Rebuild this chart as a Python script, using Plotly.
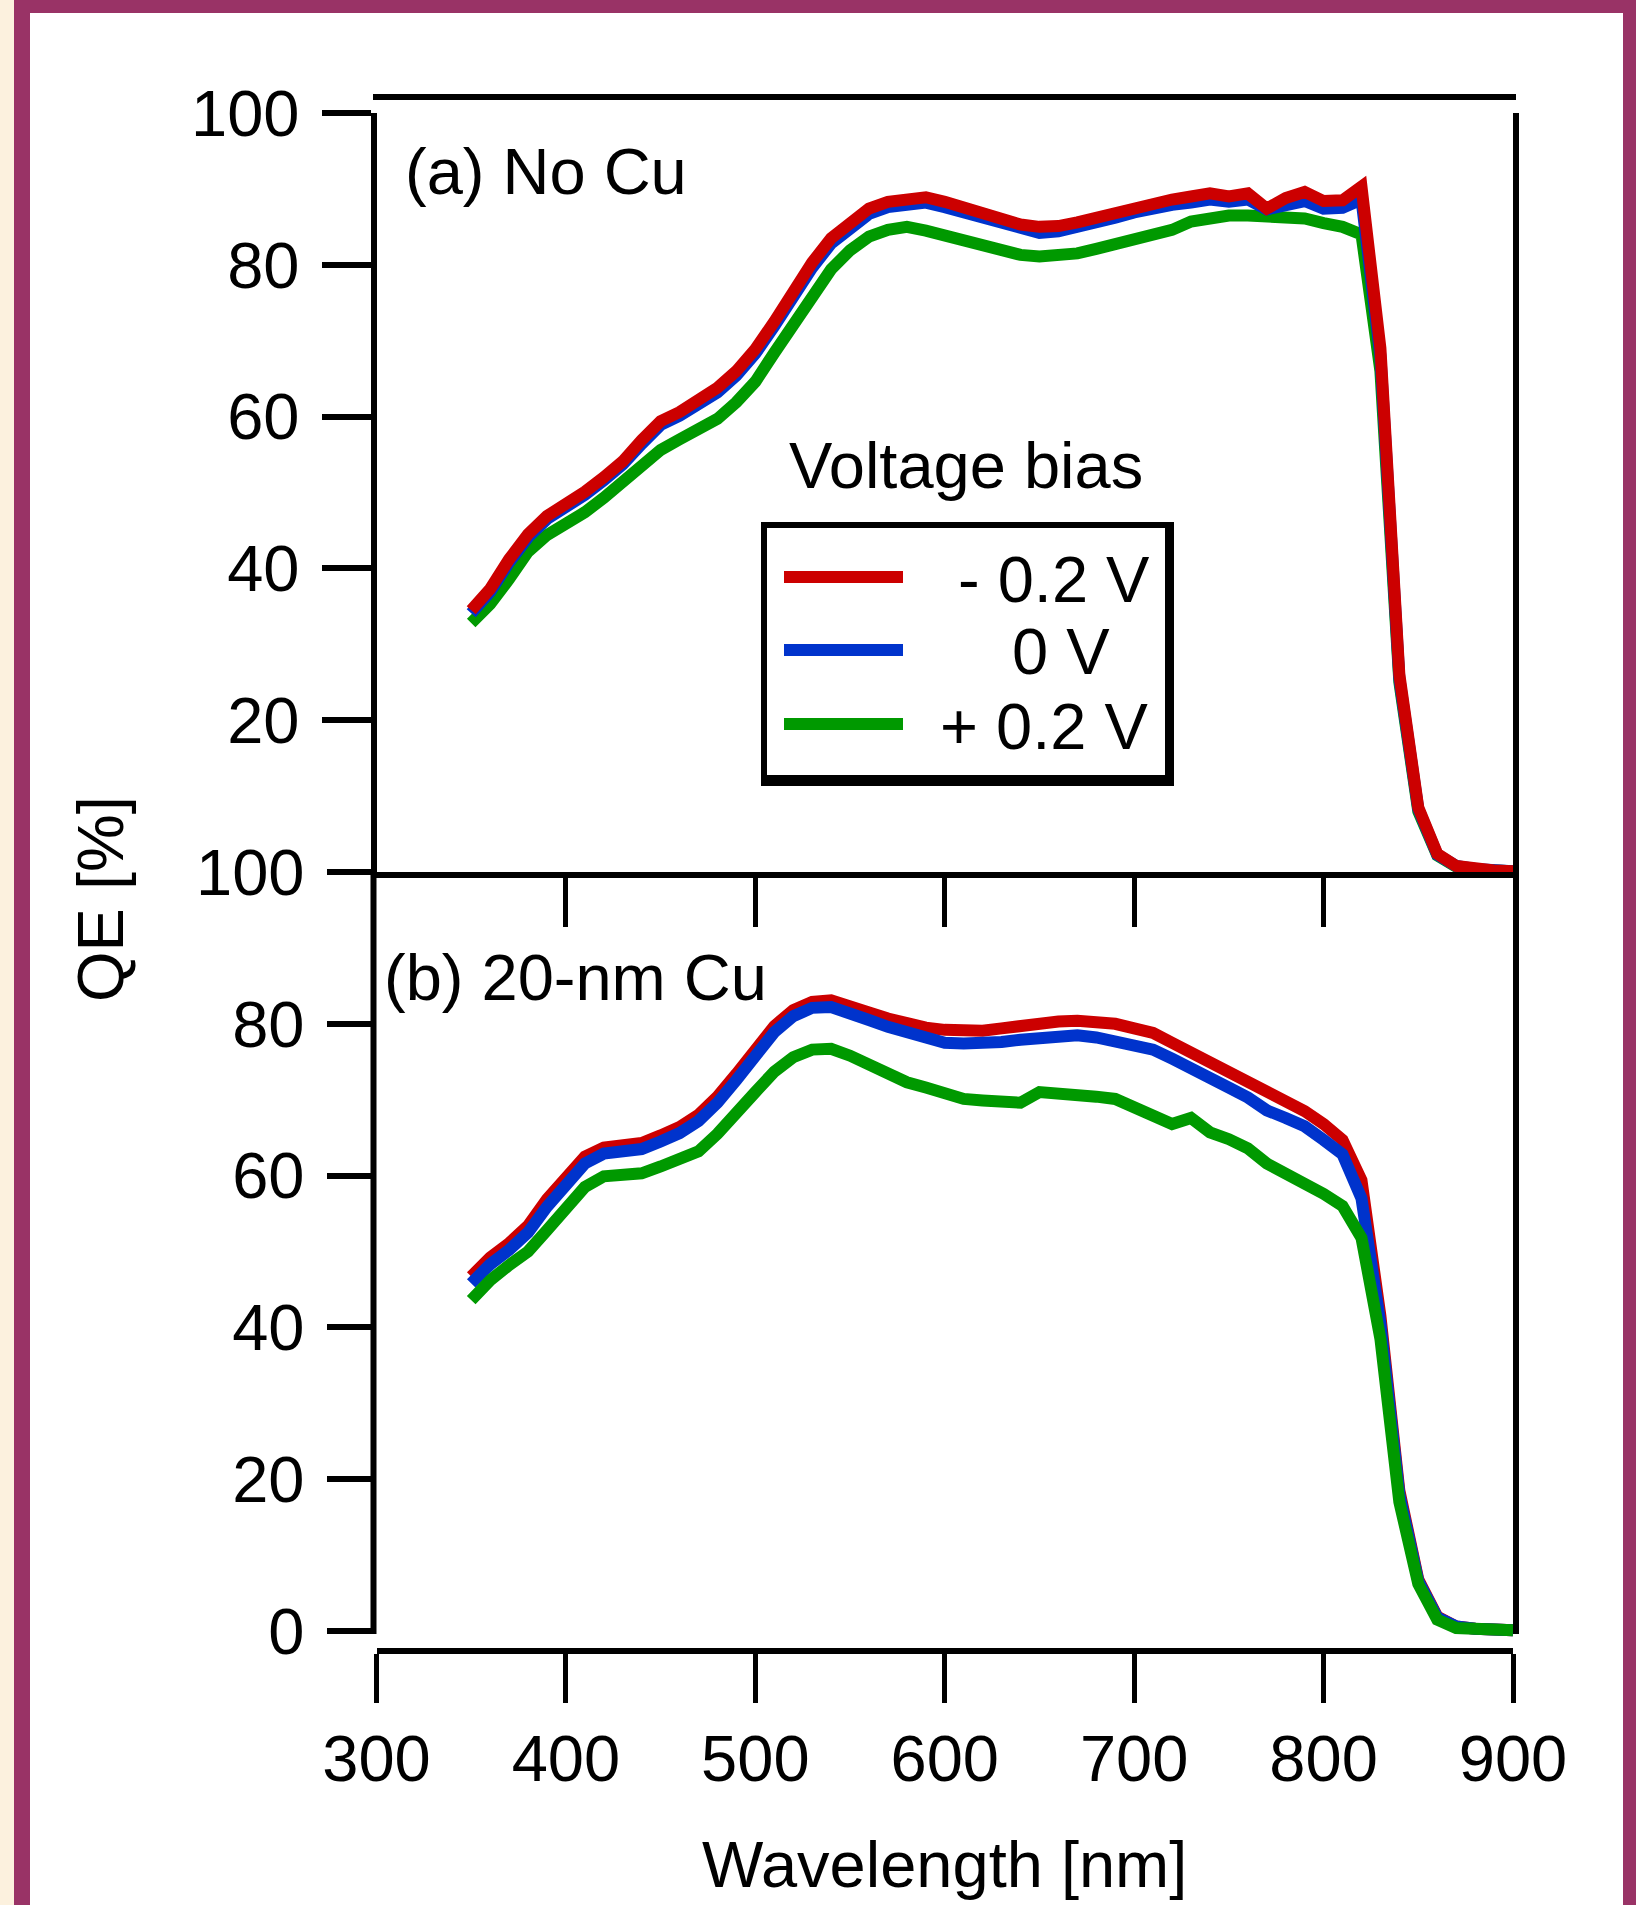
import plotly.graph_objects as go

W, H = 1636, 1905

wavelength = list(range(350, 901, 10))

# Panel (a) No Cu
qe_a_neg = [34.5, 37.3, 41.2, 44.5, 46.9, 48.4, 50.1, 52.0, 54.1, 56.9,
            59.4, 60.6, 62.0, 63.8, 66.0, 68.9, 72.5, 76.5, 80.3, 83.5,
            85.7, 87.4, 88.3, 88.7, 88.9, 88.3, 87.5, 86.7, 85.9, 85.3,
            85.0, 85.1, 85.6, 86.2, 86.9, 87.6, 88.3, 88.6, 89.0, 89.4,
            89.0, 89.4, 87.4, 88.8, 89.6, 88.4, 88.5, 90.3, 69.0, 26.0,
            8.5, 2.4, 0.8, 0.4, 0.2, 0.1]
qe_a_zero = [34.1, 36.9, 40.8, 44.1, 46.5, 48.0, 49.7, 51.6, 53.7, 56.4,
             58.9, 60.1, 61.5, 63.2, 65.4, 68.3, 71.9, 75.9, 79.6, 82.8,
             85.0, 86.7, 87.6, 88.0, 88.2, 87.6, 86.9, 86.0, 85.2, 84.6,
             84.2, 84.4, 84.9, 85.5, 86.2, 86.9, 87.6, 87.9, 88.2, 88.6,
             88.3, 88.6, 87.3, 88.0, 88.4, 87.4, 87.5, 88.6, 68.0, 25.5,
             8.3, 2.3, 0.8, 0.4, 0.2, 0.1]
qe_a_pos = [32.8, 35.3, 38.6, 42.2, 44.4, 45.8, 47.4, 49.3, 51.5, 53.7,
            55.6, 57.0, 58.2, 59.7, 61.9, 64.6, 68.4, 72.3, 75.9, 79.4,
            81.9, 83.7, 84.6, 85.0, 84.5, 83.9, 83.1, 82.4, 81.7, 81.3,
            81.1, 81.2, 81.5, 82.1, 82.7, 83.4, 84.1, 84.6, 85.7, 86.3,
            86.5, 86.5, 86.4, 86.4, 86.1, 85.5, 85.0, 84.0, 66.0, 25.0,
            8.0, 2.2, 0.7, 0.3, 0.2, 0.1]

# Panel (b) 20-nm Cu
qe_b_neg = [46.7, 49.2, 51.1, 53.4, 56.9, 60.0, 62.5, 63.7, 64.0, 64.3,
            65.3, 66.4, 68.0, 70.4, 73.4, 76.6, 79.7, 81.8, 82.9, 83.1,
            82.5, 81.5, 80.7, 80.0, 79.5, 79.2, 79.1, 79.1, 79.4, 79.8,
            80.1, 80.3, 80.4, 80.2, 80.0, 79.4, 78.8, 77.5, 76.2, 75.2,
            73.8, 72.4, 71.0, 69.8, 68.5, 66.8, 64.7, 59.4, 41.5, 18.5,
            6.8, 1.9, 0.6, 0.3, 0.2, 0.1]
qe_b_zero = [45.8, 48.3, 50.2, 52.5, 55.9, 59.0, 61.6, 62.9, 63.2, 63.5,
             64.5, 65.6, 67.2, 69.6, 72.6, 75.8, 78.9, 81.0, 82.1, 82.2,
             81.5, 80.5, 79.6, 78.8, 78.0, 77.5, 77.4, 77.4, 77.6, 77.9,
             78.2, 78.4, 78.5, 78.2, 77.8, 77.3, 76.6, 75.4, 74.0, 73.0,
             71.6, 70.3, 68.6, 67.6, 66.5, 64.7, 62.8, 57.0, 40.5, 18.0,
             6.6, 1.8, 0.6, 0.3, 0.2, 0.1]
qe_b_pos = [43.6, 46.2, 48.2, 50.0, 52.8, 55.8, 58.5, 59.9, 60.2, 60.3,
            61.2, 62.1, 63.2, 65.5, 68.0, 71.0, 73.7, 75.6, 76.6, 76.7,
            75.8, 74.6, 73.2, 72.3, 71.6, 70.9, 70.1, 69.9, 69.8, 69.6,
            71.0, 70.9, 70.8, 70.4, 70.1, 68.9, 68.0, 66.8, 67.6, 65.7,
            64.8, 63.6, 61.6, 60.4, 59.2, 57.6, 56.0, 51.8, 38.5, 17.0,
            6.2, 1.5, 0.4, 0.2, 0.1, 0.1]

series_names = ["- 0.2 V", "0 V", "+ 0.2 V"]
colors = ["#CC0000", "#0033CC", "#009900"]

x_ticks = [300, 400, 500, 600, 700, 800, 900]
mid_ticks = [400, 500, 600, 700, 800]
y_ticks_a = [20, 40, 60, 80, 100]
y_ticks_b = [0, 20, 40, 60, 80, 100]

FONT = "Liberation Sans, Arial, sans-serif"
FS = 65
LW = 12


def px(x):
    return x / W


def py(y):
    return 1 - y / H


X0, X1 = 376.5, 1513.0
YA_TOP, YA_BOT = 113.0, 872.0
YB_TOP, YB_ZERO, YB_BOT = 872.0, 1631.0, 1648.0
unit = (YB_ZERO - YB_TOP) / 100.0
yb_min = -(YB_BOT - YB_ZERO) / unit

fig = go.Figure()

# panel (a): green, blue, red on top
for ys, c in ((qe_a_pos, colors[2]), (qe_a_zero, colors[1]), (qe_a_neg, colors[0])):
    fig.add_trace(go.Scatter(x=wavelength, y=ys, mode="lines", xaxis="x2", yaxis="y",
                             line=dict(color=c, width=LW), showlegend=False))
# panel (b): red, blue, green on top
for ys, c in ((qe_b_neg, colors[0]), (qe_b_zero, colors[1]), (qe_b_pos, colors[2])):
    fig.add_trace(go.Scatter(x=wavelength, y=ys, mode="lines", xaxis="x", yaxis="y2",
                             line=dict(color=c, width=LW), showlegend=False))

axis_common = dict(showgrid=False, zeroline=False, linecolor="black", tickcolor="black",
                   automargin=False,
                   tickfont=dict(family=FONT, size=FS, color="black"))

fig.update_layout(
    width=W, height=H, margin=dict(l=0, r=0, t=0, b=0, pad=0, autoexpand=False),
    paper_bgcolor="white", plot_bgcolor="rgba(0,0,0,0)",
    xaxis=dict(domain=[px(X0), px(X1)], range=[300, 900], anchor="y2",
               tickvals=x_ticks, ticks="outside", ticklen=49, tickwidth=5,
               showline=True, linewidth=6, ticklabelstandoff=0, **axis_common),
    xaxis2=dict(domain=[px(X0), px(X1)], range=[300, 900], anchor="y", matches="x",
                tickvals=mid_ticks, ticks="outside", ticklen=49, tickwidth=5,
                showline=True, linewidth=6, showticklabels=False, automargin=False,
                showgrid=False, zeroline=False, linecolor="black", tickcolor="black"),
    yaxis=dict(domain=[py(YA_BOT), py(YA_TOP)], range=[0, 100], anchor="x2",
               tickvals=y_ticks_a, ticks="outside", ticklen=49, tickwidth=6,
               showline=True, linewidth=6, mirror=True, ticklabelstandoff=9, **axis_common),
    yaxis2=dict(domain=[py(YB_BOT), py(YB_TOP)], range=[yb_min, 100], anchor="x",
                tickvals=y_ticks_b, ticks="outside", ticklen=49, tickwidth=6,
                showline=False, ticklabelstandoff=9, **axis_common),
)

shapes = []
# page border
shapes.append(dict(type="rect", xref="paper", yref="paper", x0=0, x1=px(14), y0=0, y1=1,
                   fillcolor="#FCF1DE", line=dict(width=0), layer="above"))
shapes.append(dict(type="rect", xref="paper", yref="paper", x0=px(14), x1=px(30), y0=0, y1=1,
                   fillcolor="#993366", line=dict(width=0), layer="above"))
shapes.append(dict(type="rect", xref="paper", yref="paper", x0=px(14), x1=1, y0=py(13), y1=1,
                   fillcolor="#993366", line=dict(width=0), layer="above"))
shapes.append(dict(type="rect", xref="paper", yref="paper", x0=px(1623), x1=1, y0=0, y1=1,
                   fillcolor="#993366", line=dict(width=0), layer="above"))
# top frame line
shapes.append(dict(type="line", xref="paper", yref="paper", x0=px(373), x1=px(1516),
                   y0=py(97), y1=py(97), line=dict(color="black", width=6)))
# panel (b) left and right frame lines (stop at the 0 level)
for xv in (X0 - 3, X1 + 3):
    shapes.append(dict(type="line", xref="paper", yref="paper", x0=px(xv), x1=px(xv),
                       y0=py(YB_ZERO + 3), y1=py(YB_TOP), line=dict(color="black", width=6)))
# legend box
shapes.append(dict(type="rect", xref="paper", yref="paper", x0=px(761), x1=px(1174),
                   y0=py(786), y1=py(522), fillcolor="black", line=dict(width=0)))
shapes.append(dict(type="rect", xref="paper", yref="paper", x0=px(767), x1=px(1165),
                   y0=py(775), y1=py(528), fillcolor="white", line=dict(width=0)))
leg_y = [577, 650, 724]
for yy, c in zip(leg_y, colors):
    shapes.append(dict(type="line", xref="paper", yref="paper", x0=px(784), x1=px(903),
                       y0=py(yy), y1=py(yy), line=dict(color=c, width=12)))
fig.update_layout(shapes=shapes)

font = dict(family=FONT, size=FS, color="black")
ann = []


def text(t, x, y, xanchor="center", angle=0):
    ann.append(dict(text=t, x=px(x), y=py(y), xref="paper", yref="paper", showarrow=False,
                    xanchor=xanchor, yanchor="middle", font=font, textangle=angle))


text("(a) No Cu", 403, 171, xanchor="left")
text("(b) 20-nm Cu", 382, 977, xanchor="left")
text("Voltage bias", 966, 465)
leg_cx = [1054, 1061, 1044]
for nm, cx, yy in zip(series_names, leg_cx, leg_y):
    text(nm, cx, yy + 2)
text("QE [%]", 100, 899, angle=-90)
text("Wavelength [nm]", 945, 1864)
fig.update_layout(annotations=ann)

fig.write_html("out.html")
